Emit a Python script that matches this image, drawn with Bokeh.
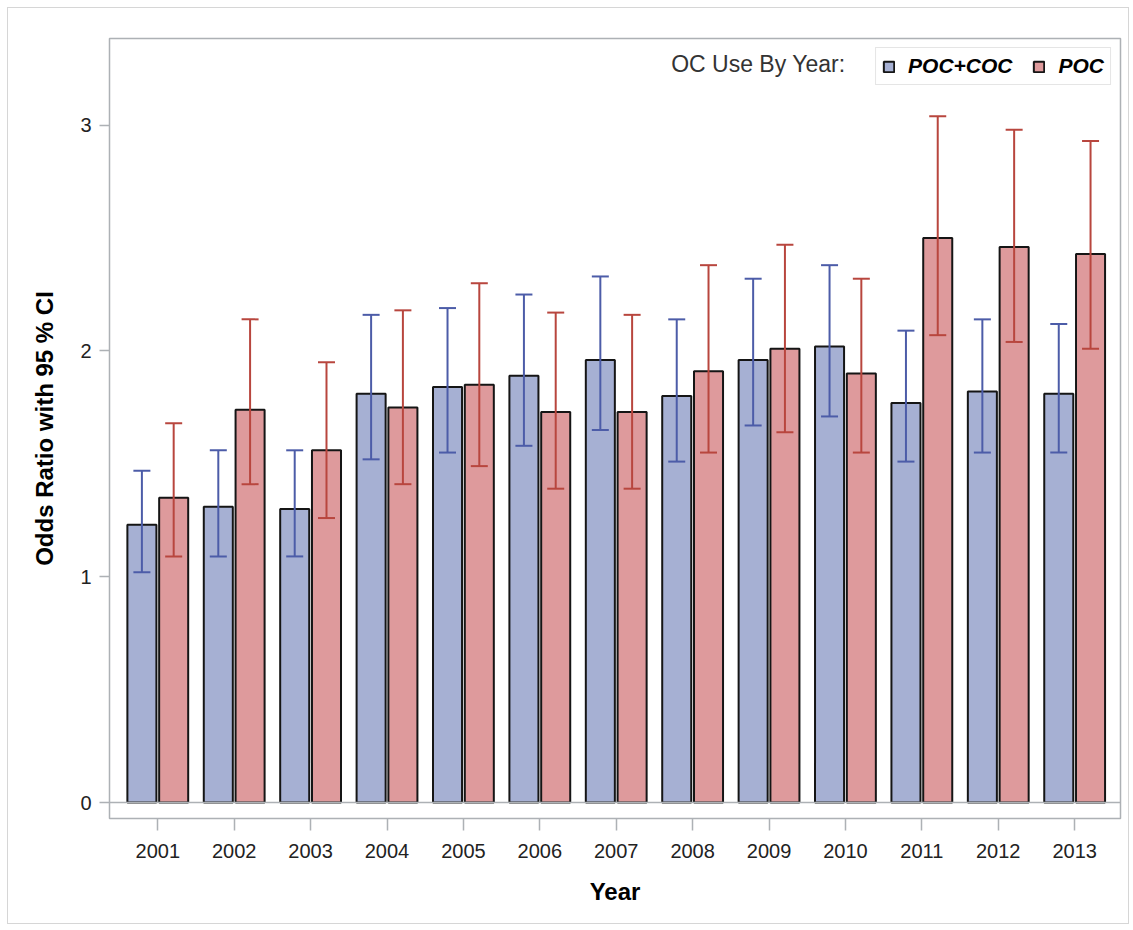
from bokeh.plotting import figure
from bokeh.models import (ColumnDataSource, Whisker, TeeHead, Span, Label, Legend,
                          LegendItem, FixedTicker)
from bokeh.transform import dodge
from bokeh.embed import file_html
from bokeh.resources import INLINE

years = [2001, 2002, 2003, 2004, 2005, 2006, 2007, 2008, 2009, 2010, 2011, 2012, 2013]
poc_coc = [1.23, 1.31, 1.30, 1.81, 1.84, 1.89, 1.96, 1.80, 1.96, 2.02, 1.77, 1.82, 1.81]
poc_coc_lo = [1.02, 1.09, 1.09, 1.52, 1.55, 1.58, 1.65, 1.51, 1.67, 1.71, 1.51, 1.55, 1.55]
poc_coc_hi = [1.47, 1.56, 1.56, 2.16, 2.19, 2.25, 2.33, 2.14, 2.32, 2.38, 2.09, 2.14, 2.12]
poc = [1.35, 1.74, 1.56, 1.75, 1.85, 1.73, 1.73, 1.91, 2.01, 1.90, 2.50, 2.46, 2.43]
poc_lo = [1.09, 1.41, 1.26, 1.41, 1.49, 1.39, 1.39, 1.55, 1.64, 1.55, 2.07, 2.04, 2.01]
poc_hi = [1.68, 2.14, 1.95, 2.18, 2.30, 2.17, 2.16, 2.38, 2.47, 2.32, 3.04, 2.98, 2.93]
y_ticks = [0, 1, 2, 3]
series_names = ["POC+COC", "POC"]
legend_title = "OC Use By Year:"

src = ColumnDataSource(dict(year=years, poc_coc=poc_coc, poc_coc_lo=poc_coc_lo,
                            poc_coc_hi=poc_coc_hi, poc=poc, poc_lo=poc_lo, poc_hi=poc_hi))

FONT = "Liberation Sans"
BLUE_FILL = "#a6b0d3"
RED_FILL = "#de9a9c"
BLUE_LINE = "#4c5ca8"
RED_LINE = "#b8463e"
FRAME = "#adb1b5"

p = figure(width=1122, height=917, output_backend="svg", toolbar_location=None,
           x_range=(2000.368, 2013.60), y_range=(-0.0708, 3.384),
           min_border_left=101, min_border_right=10, min_border_top=30,
           min_border_bottom=107)
p.styles = {"border": "1px solid #d6d6d6", "margin-left": "7px", "margin-top": "7px"}
p.outline_line_color = FRAME
p.outline_line_width = 1.5
p.xgrid.visible = False
p.ygrid.visible = False

off = 0.208
bw = 0.38
r1 = p.vbar(x=dodge("year", -off), top="poc_coc", bottom=0, width=bw, source=src,
            fill_color=BLUE_FILL, line_color="#151515", line_width=2)
r2 = p.vbar(x=dodge("year", off), top="poc", bottom=0, width=bw, source=src,
            fill_color=RED_FILL, line_color="#151515", line_width=2)

for base, lo, hi, col in [(dodge("year", -off), "poc_coc_lo", "poc_coc_hi", BLUE_LINE),
                          (dodge("year", off), "poc_lo", "poc_hi", RED_LINE)]:
    w = Whisker(source=src, base=base, lower=lo, upper=hi, line_color=col, line_width=2,
                upper_head=TeeHead(size=17, line_color=col, line_width=2),
                lower_head=TeeHead(size=17, line_color=col, line_width=2),
                level="annotation")
    p.add_layout(w)

p.add_layout(Span(location=0, dimension="width", line_color=FRAME, line_width=1.5))

# axes
p.xaxis.ticker = FixedTicker(ticks=years)
p.xaxis.major_label_overrides = {y: str(y) for y in years}
p.yaxis.ticker = FixedTicker(ticks=y_ticks)
for ax in (p.xaxis, p.yaxis):
    ax.axis_line_color = None
    ax.major_tick_line_color = FRAME
    ax.major_tick_line_width = 1.5
    ax.major_tick_in = 0
    ax.minor_tick_line_color = None
    ax.major_label_text_font = FONT
    ax.major_label_text_font_size = "20px"
    ax.major_label_text_color = "#222222"
    ax.axis_label_text_font = FONT
    ax.axis_label_text_font_size = "24px"
    ax.axis_label_text_font_style = "bold"
    ax.axis_label_text_color = "#000000"
p.xaxis.major_tick_out = 12
p.yaxis.major_tick_out = 10
p.xaxis.major_label_standoff = 13
p.yaxis.major_label_standoff = 8
p.xaxis.axis_label = "Year"
p.yaxis.axis_label = "Odds Ratio with 95 % CI"
p.xaxis.axis_label_standoff = 17
p.yaxis.axis_label_standoff = 19

legend = Legend(items=[LegendItem(label=series_names[0], renderers=[r1]),
                       LegendItem(label=series_names[1], renderers=[r2])],
                orientation="horizontal", location="top_right",
                label_text_font=FONT, label_text_font_size="21px",
                label_text_font_style="bold italic", label_text_color="#000000",
                glyph_width=13, glyph_height=13, label_standoff=13, spacing=20,
                padding=6, margin=9, border_line_color="#cccccc", border_line_width=1,
                background_fill_alpha=1)
p.add_layout(legend)

p.add_layout(Label(x=2010.0, y=3.271, text=legend_title, text_align="right",
                   text_baseline="middle", text_font=FONT, text_font_size="23px",
                   text_color="#333333"))

open("out.html", "w").write(file_html(p, INLINE))
